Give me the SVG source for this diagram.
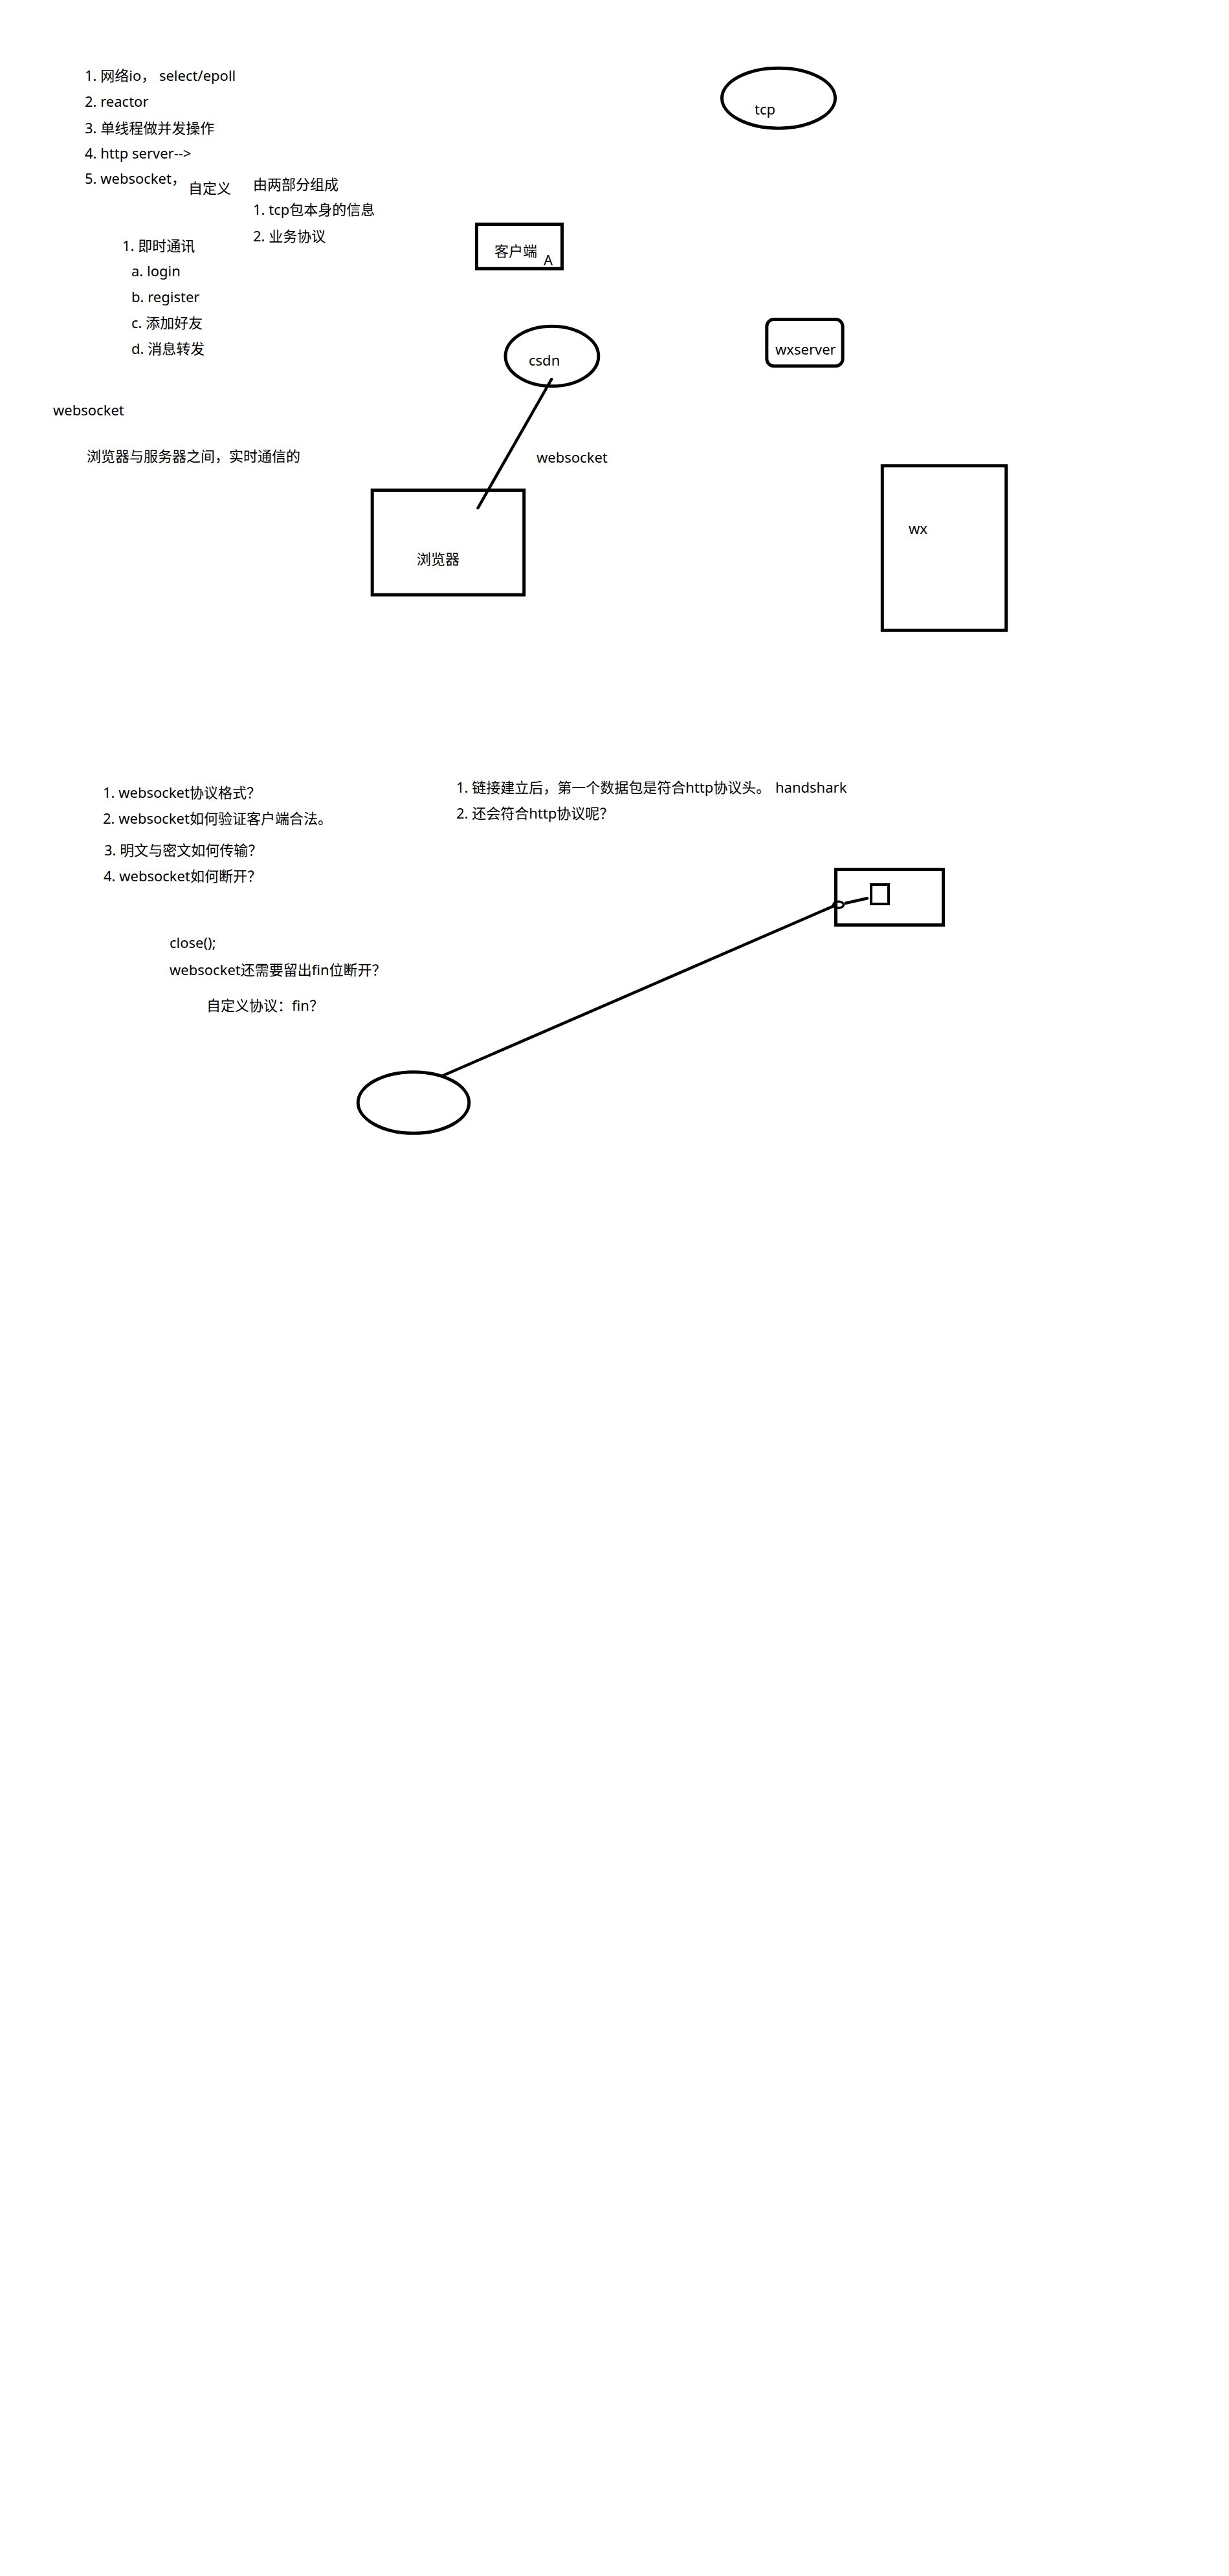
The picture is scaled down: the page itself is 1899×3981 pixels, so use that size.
<svg xmlns="http://www.w3.org/2000/svg" width="1899" height="3981" viewBox="0 0 1899 3981">
<style>
text{font-family:"Noto Sans","Noto Sans CJK SC",sans-serif;font-size:22px;fill:#000}
.c{font-family:"Noto Sans CJK SC",sans-serif}
.s{fill:none;stroke:#000;stroke-width:5}
.l{fill:none;stroke:#000;stroke-width:4.5;stroke-linecap:round}
</style>
<rect width="1899" height="3981" fill="#fff"/>
<g id="notes-top">
<text x="131" y="125">1. 网络io<tspan class="c">，</tspan> select/epoll</text>
<text x="131" y="165">2. reactor</text>
<text x="131" y="206">3. 单线程做并发操作</text>
<text x="131" y="245">4. http server--&gt;</text>
<text x="131" y="284">5. websocket<tspan class="c">，</tspan></text>
<text x="291" y="299">自定义</text>
<text x="391" y="293">由两部分组成</text>
<text x="391" y="332">1. tcp包本身的信息</text>
<text x="391" y="373">2. 业务协议</text>
<text x="189" y="388">1. 即时通讯</text>
<text x="203" y="427">a. login</text>
<text x="203" y="467">b. register</text>
<text x="203" y="507">c. 添加好友</text>
<text x="203" y="547">d. 消息转发</text>
<text x="82" y="642">websocket</text>
<text x="134" y="713">浏览器与服务器之间<tspan class="c">，</tspan>实时通信的</text>
</g>
<g id="notes-bottom">
<text x="159" y="1233">1. websocket协议格式<tspan class="c">？</tspan></text>
<text x="159" y="1273">2. websocket如何验证客户端合法<tspan class="c">。</tspan></text>
<text x="161" y="1322">3. 明文与密文如何传输<tspan class="c">？</tspan></text>
<text x="160" y="1362">4. websocket如何断开<tspan class="c">？</tspan></text>
<text x="262" y="1465">close();</text>
<text x="262" y="1507">websocket还需要留出fin位断开<tspan class="c">？</tspan></text>
<text x="319" y="1562">自定义协议<tspan class="c">：</tspan>fin<tspan class="c">？</tspan></text>
<text x="705" y="1225">1. 链接建立后<tspan class="c">，</tspan>第一个数据包是符合http协议头<tspan class="c">。</tspan><tspan x="1198">handshark</tspan></text>
<text x="705" y="1265">2. 还会符合http协议呢<tspan class="c">？</tspan></text>
</g>
<g id="node-tcp">
<ellipse class="s" cx="1203" cy="151.7" rx="87.5" ry="46.5"/>
<text x="1166" y="177">tcp</text>
</g>
<g id="node-client">
<rect class="s" x="736.5" y="346.5" width="132" height="68.7"/>
<text x="764" y="396">客户端</text>
<text x="840" y="409.5">A</text>
</g>
<g id="node-csdn">
<ellipse class="s" cx="852.9" cy="550.5" rx="71.9" ry="46.3"/>
<text x="817" y="565">csdn</text>
</g>
<g id="node-wxserver">
<rect class="s" x="1184.8" y="493.5" width="117.3" height="72.3" rx="11"/>
<text x="1198" y="548">wxserver</text>
</g>
<g id="node-browser">
<rect class="s" x="575.2" y="757.5" width="234.5" height="161.7"/>
<text x="644" y="872">浏览器</text>
</g>
<g id="node-wx">
<rect class="s" x="1363.3" y="719.8" width="191.4" height="254.4"/>
<text x="1404" y="825">wx</text>
</g>
<g id="node-box">
<rect class="s" x="1291.5" y="1343.5" width="166" height="86"/>
<rect class="s" x="1346" y="1367" width="27" height="30" style="stroke-width:4"/>
<ellipse class="s" cx="1295.5" cy="1398.3" rx="8" ry="5" style="stroke-width:3.5"/>
</g>
<g id="node-circle">
<ellipse class="s" cx="639" cy="1704" rx="85.8" ry="47.3"/>
</g>
<g id="connectors">
<line class="l" x1="852.2" y1="586" x2="738.5" y2="785"/>
<text x="829" y="715">websocket</text>
<line class="l" x1="1288.5" y1="1400" x2="682.6" y2="1663"/>
<line class="l" x1="1306.7" y1="1395.7" x2="1340" y2="1388.3"/>
</g>
</svg>
